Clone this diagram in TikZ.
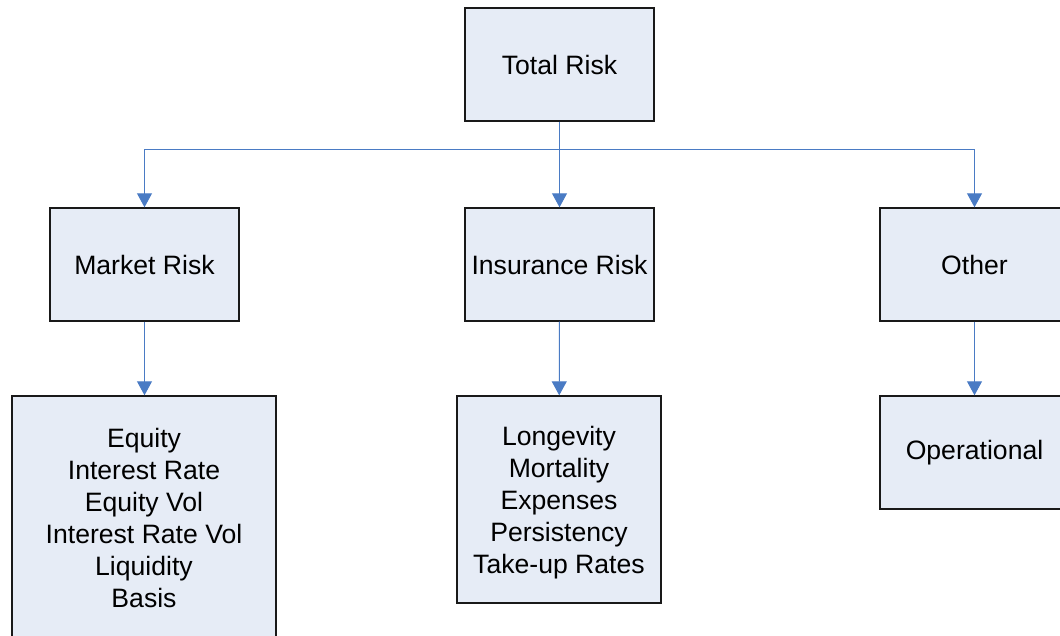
\documentclass[tikz,border=0pt]{standalone}
\usepackage{fontspec}
\setmainfont{Liberation Sans}
\usepackage{xcolor}
\usepackage{tikz}
\usetikzlibrary{arrows.meta, positioning}

\definecolor{boxfill}{HTML}{E6ECF6}
\definecolor{linkblue}{HTML}{4A7BC4}

\begin{document}
\begin{tikzpicture}[
        x=0.5pt, y=-0.5pt,
        box/.style={rectangle, draw=black!90, fill=boxfill, line width=0.7pt, minimum width=94.5pt, minimum height=56.5pt, align=center, font=\fontsize{13.3}{16}\selectfont, inner sep=0pt},
        link/.style={draw=linkblue, line width=0.5pt},
        arrow/.style={link, -{Triangle[width=7.5pt, length=7pt]}}
    ]
        \clip (0,0) rectangle (1060,636);
        % Top level
        \node[box] (total) at (559.5, 64.5) {Total Risk};

        % Risk categories
        \node[box] (market) at (144.5, 264.5) {Market Risk};
        \node[box] (insurance) at (559.5, 264.5) {Insurance Risk};
        \node[box] (other) at (974.5, 264.5) {Other};

        % Risk drivers
        \node[box, minimum width=132pt, minimum height=122pt] (marketdrv) at (144, 518) {Equity\\Interest Rate\\Equity Vol\\Interest Rate Vol\\Liquidity\\Basis};
        \node[box, minimum width=102pt, minimum height=103.5pt, text depth=-4pt] (insdrv) at (559, 499.5) {Longevity\\Mortality\\Expenses\\Persistency\\Take-up Rates};
        \node[box] (otherdrv) at (974.5, 452.5) {Operational};

        % Arrows
        \coordinate (split) at (559.5, 150);
        \draw[link] (total) -- (split);
        \draw[arrow] (split) -| (market);
        \draw[arrow] (split) -- (insurance);
        \draw[arrow] (split) -| (other);
        \draw[arrow] (market) -- (market |- marketdrv.north);
        \draw[arrow] (insurance) -- (insdrv);
        \draw[arrow] (other) -- (otherdrv);
    \end{tikzpicture}
\end{document}
